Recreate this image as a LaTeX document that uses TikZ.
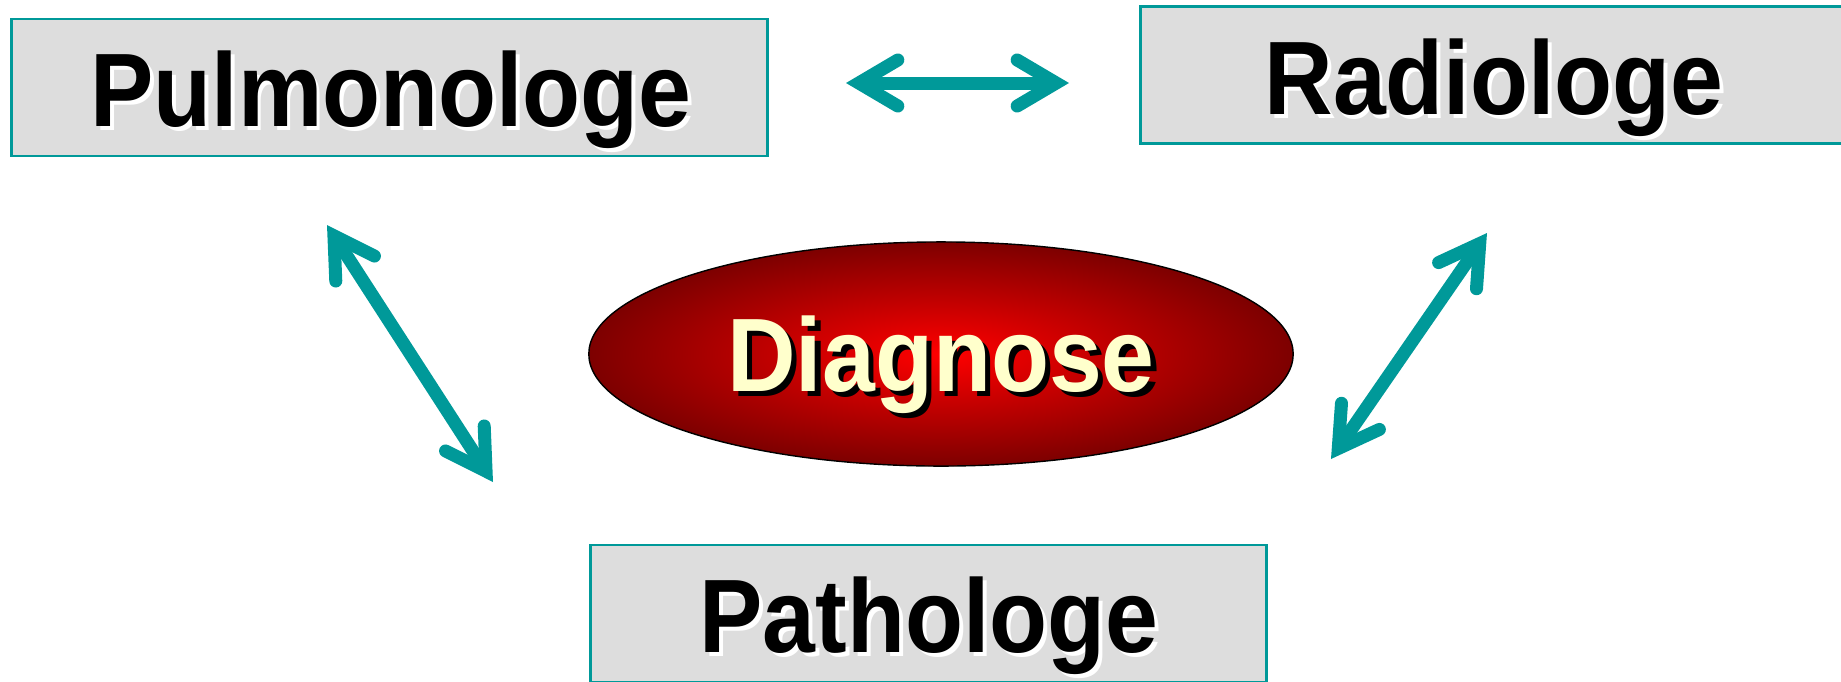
\documentclass[tikz,border=0pt]{standalone}
\usepackage{fontspec}
\setmainfont{Liberation Sans}
\usepackage{xcolor}
\usepackage{tikz}
\usetikzlibrary{arrows.meta, shapes.geometric}

\definecolor{boxteal}{RGB}{0,153,153}
\definecolor{boxgray}{RGB}{221,221,221}
\definecolor{diagred}{RGB}{125,0,0}
\definecolor{cream}{RGB}{255,255,204}

% shadow colour, offset, text
\newcommand{\shadowed}[3]{\scalebox{1}[1.1]{\rlap{\hspace{#2}\raisebox{-#2}{\color{#1}#3}}#3}}

\begin{document}
\begin{tikzpicture}[x=0.01cm, y=-0.01cm,
        box/.style={rectangle, draw=boxteal, fill=boxgray, line width=0.8pt, minimum height=1.37cm},
        lbl/.style={font=\fontsize{27}{32}\selectfont\bfseries, inner sep=0pt},
        link/.style={boxteal, line width=0.13cm,
            {Straight Barb[length=3.9mm, width=4.6mm, line cap=round, line join=miter]}-{Straight Barb[length=3.9mm, width=4.6mm, line cap=round, line join=miter]}}]
        \useasboundingbox (0,0) rectangle (1841,681);

        % specialists
        \node[box, minimum width=7.55cm] (pulm) at (389.5,87.5) {};
        \node[box, minimum width=7.6cm, anchor=west] (radio) at (1139,75) {};
        \node[box, minimum width=6.75cm] (patho) at (928.5,613.5) {};
        \node[lbl, anchor=base] (pulm-txt) at (391,126) {\shadowed{white}{1.1pt}{Pulmonologe}};
        \node[lbl, anchor=base] (radio-txt) at (1494,114) {\shadowed{white}{1.1pt}{Radiologe}};
        \node[lbl, anchor=base] (patho-txt) at (929,652) {\shadowed{white}{1.1pt}{Pathologe}};

        % diagnosis
        \node[ellipse, draw=black, line width=0.4pt, inner sep=0pt, minimum width=7.04cm, minimum height=2.24cm,
            shading=radial, inner color=red, outer color=diagred] (diag) at (941,354) {};
        \node[lbl, anchor=base, text=cream] (diag-txt) at (941,391) {\shadowed{black}{1.5pt}{Diagnose}};

        % links
        \coordinate (pr-a) at (846,83);
        \coordinate (pr-b) at (1069,83);
        \coordinate (pp-a) at (327,225);
        \coordinate (pp-b) at (493,482);
        \coordinate (rp-a) at (1487,233);
        \coordinate (rp-b) at (1331,459);
        \foreach \a/\b in {pr-a/pr-b, pp-a/pp-b, rp-a/rp-b} {
            \draw[link] (\a) -- (\b);
        }
    \end{tikzpicture}
\end{document}
